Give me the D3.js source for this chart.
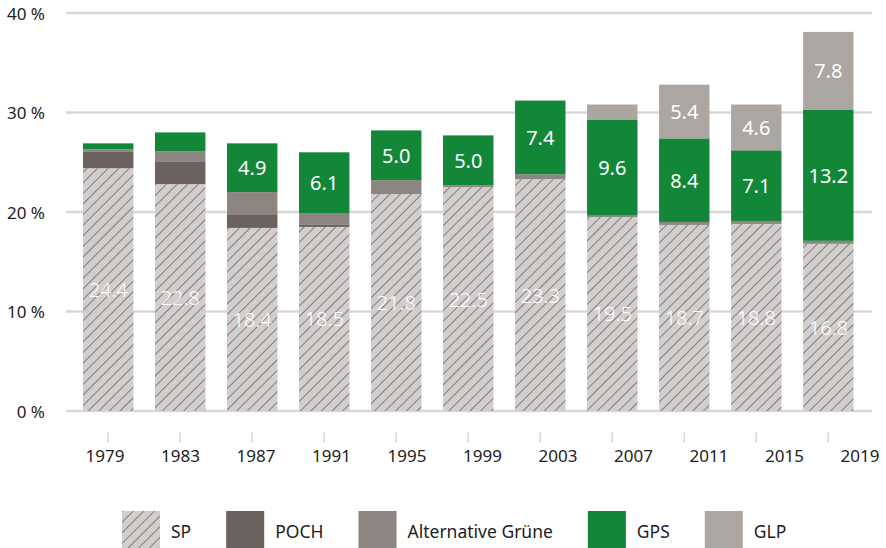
<!DOCTYPE html>
<html lang="de">
<head>
<meta charset="UTF-8">
<title>Wähleranteile</title>
<script src="https://d3js.org/d3.v7.min.js"></script>
<style>
    body { margin: 0; background: #fff; }
    text { font-family: "Noto Sans", sans-serif; fill: #222; }
    .grid-line { stroke: #dbd7d6; stroke-width: 2.5; }
    .x-tick { stroke: #dbd7d6; stroke-width: 1.5; }
    .axis-label { font-size: 17px; }
    .bar-label { fill: #fff; font-size: 20px; text-anchor: middle; dominant-baseline: central; }
    .legend-text { font-size: 17.5px; dominant-baseline: central; }
</style>
</head>
<body>
<script>
    // Daten
    const years = ["1979", "1983", "1987", "1991", "1995", "1999", "2003", "2007", "2011", "2015", "2019"];
    const parties = ["SP", "POCH", "Alternative Grüne", "GPS", "GLP"];
    const sp = [24.4, 22.8, 18.4, 18.5, 21.8, 22.5, 23.3, 19.5, 18.7, 18.8, 16.8];
    const poch = [1.7, 2.3, 1.3, 0.2, 0, 0, 0, 0, 0, 0, 0];
    const altGruene = [0.2, 1.0, 2.3, 1.2, 1.4, 0.2, 0.5, 0.2, 0.3, 0.3, 0.3];
    const gps = [0.6, 1.9, 4.9, 6.1, 5.0, 5.0, 7.4, 9.6, 8.4, 7.1, 13.2];
    const glp = [0, 0, 0, 0, 0, 0, 0, 1.5, 5.4, 4.6, 7.8];
    const yTicks = [0, 10, 20, 30, 40];

    const colors = {
        "SP": "url(#hatch)",
        "POCH": "#6b6260",
        "Alternative Grüne": "#8d8582",
        "GPS": "#138738",
        "GLP": "#aca6a3"
    };
    const labelled = { "SP": true, "GPS": true, "GLP": true };

    const width = 886, height = 548;

    const svg = d3.select("body").append("svg")
        .attr("width", width)
        .attr("height", height);

    // Schraffur für SP
    const pattern = svg.append("defs").append("pattern")
        .attr("id", "hatch")
        .attr("patternUnits", "userSpaceOnUse")
        .attr("width", 7.5)
        .attr("height", 7.5)
        .attr("patternTransform", "rotate(45)");
    pattern.append("rect")
        .attr("width", 7.5).attr("height", 7.5)
        .attr("fill", "#d2cecd");
    pattern.append("line")
        .attr("x1", 0).attr("y1", 0).attr("x2", 0).attr("y2", 7.5)
        .attr("stroke", "#6f6866").attr("stroke-width", 1.6);

    // Tabelle für den Stack
    const table = years.map((yr, i) => ({
        year: yr,
        "SP": sp[i],
        "POCH": poch[i],
        "Alternative Grüne": altGruene[i],
        "GPS": gps[i],
        "GLP": glp[i]
    }));
    const series = d3.stack().keys(parties)(table);

    const x = d3.scaleBand()
        .domain(years)
        .range([83, 853.5])
        .paddingInner(0.3)
        .paddingOuter(0);

    // Jahreszahlen stehen etwas versetzt zu den Säulen
    const xLabel = d3.scalePoint()
        .domain(years)
        .range([105, 860]);

    const y = d3.scaleLinear()
        .domain([0, 40])
        .range([411, 13]);

    // Gitterlinien
    svg.selectAll(".grid-line")
        .data(yTicks)
        .enter().append("line")
        .attr("class", "grid-line")
        .attr("x1", 66)
        .attr("x2", 872)
        .attr("y1", d => y(d))
        .attr("y2", d => y(d));

    svg.selectAll(".y-label")
        .data(yTicks)
        .enter().append("text")
        .attr("class", "axis-label")
        .attr("x", 45)
        .attr("y", d => y(d))
        .attr("text-anchor", "end")
        .attr("dominant-baseline", "central")
        .text(d => d + " %");

    // Säulen
    const groups = svg.selectAll(".series")
        .data(series)
        .enter().append("g")
        .attr("class", "series")
        .attr("fill", d => colors[d.key]);

    groups.selectAll("rect")
        .data(d => d.map(v => ({ key: d.key, year: v.data.year, y0: v[0], y1: v[1] })))
        .enter().append("rect")
        .attr("x", d => x(d.year))
        .attr("width", x.bandwidth())
        .attr("y", d => y(d.y1))
        .attr("height", d => y(d.y0) - y(d.y1));

    // Werte in den Säulen
    series.forEach(s => {
        if (!labelled[s.key]) return;
        svg.selectAll(null)
            .data(s.filter(v => v[1] - v[0] >= 4))
            .enter().append("text")
            .attr("class", "bar-label")
            .attr("x", v => x(v.data.year) + x.bandwidth() / 2)
            .attr("y", v => y((v[0] + v[1]) / 2))
            .style("font-weight", s.key === "SP" ? 300 : 400)
            .text(v => (v[1] - v[0]).toFixed(1));
    });

    // x-Achse
    svg.selectAll(".x-tick")
        .data(years)
        .enter().append("line")
        .attr("class", "x-tick")
        .attr("x1", d => x(d) + x.bandwidth() / 2)
        .attr("x2", d => x(d) + x.bandwidth() / 2)
        .attr("y1", 432)
        .attr("y2", 443);

    svg.selectAll(".x-label")
        .data(years)
        .enter().append("text")
        .attr("class", "axis-label")
        .attr("x", d => xLabel(d))
        .attr("y", 455)
        .attr("text-anchor", "middle")
        .attr("dominant-baseline", "central")
        .text(d => d);

    // Legende
    const legend = svg.append("g").attr("transform", "translate(122,511)");
    let lx = 0;
    parties.forEach(p => {
        const item = legend.append("g").attr("transform", `translate(${lx},0)`);
        item.append("rect")
            .attr("width", 38)
            .attr("height", 38)
            .attr("fill", colors[p]);
        const t = item.append("text")
            .attr("class", "legend-text")
            .attr("x", 49)
            .attr("y", 20)
            .text(p);
        lx += 49 + t.node().getComputedTextLength() + 35;
    });
</script>
</body>
</html>
